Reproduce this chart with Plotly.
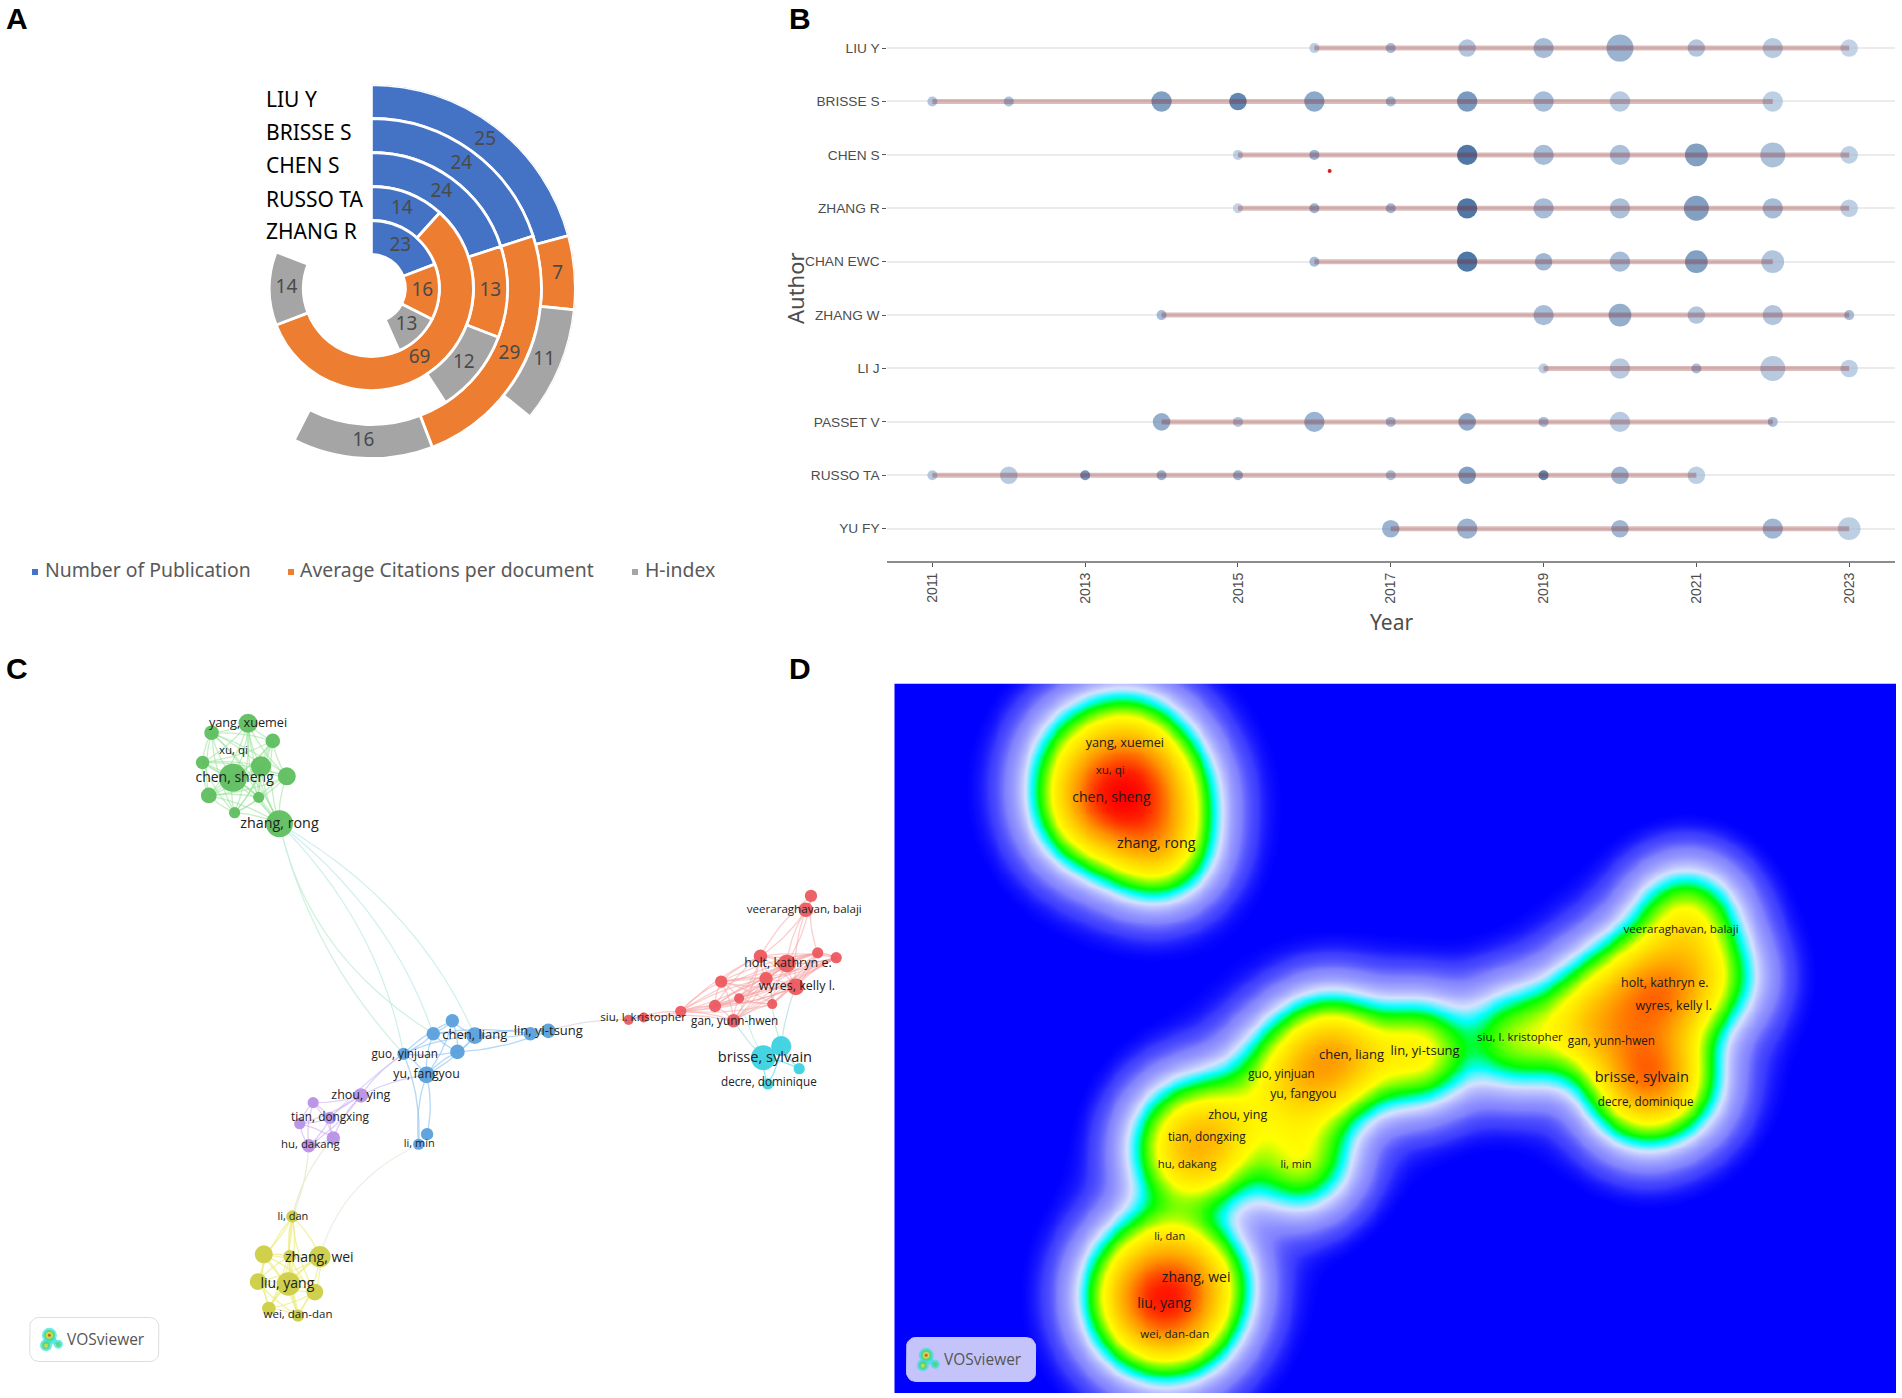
import itertools
import numpy as np
import plotly.graph_objects as go

W, H = 1902, 1398

# ---------- Panel A data ----------
authors_a = ["LIU Y", "BRISSE S", "CHEN S", "RUSSO TA", "ZHANG R"]
publications = [25, 24, 24, 14, 23]
avg_citations = [7, 29, 13, 69, 16]
h_index = [11, 16, 12, 14, 13]
series_names = ["Number of Publication", "Average Citations per document", "H-index"]
series_colors = ["#4472C4", "#ED7D31", "#A5A5A5"]
DEG_PER_UNIT = 3.0

# ---------- Panel B data ----------
authors_b = ["LIU Y", "BRISSE S", "CHEN S", "ZHANG R", "CHAN EWC", "ZHANG W", "LI J", "PASSET V", "RUSSO TA", "YU FY"]
years_liu = [2016, 2017, 2018, 2019, 2020, 2021, 2022, 2023]
n_liu = [1, 1, 3, 4, 7, 3, 4, 3]
tc_liu = [10, 30, 20, 30, 40, 20, 15, 5]
years_brisse = [2011, 2012, 2014, 2015, 2016, 2017, 2018, 2019, 2020, 2022]
n_brisse = [1, 1, 4, 3, 4, 1, 4, 4, 4, 4]
tc_brisse = [20, 25, 60, 85, 50, 30, 65, 30, 15, 10]
years_chen = [2015, 2016, 2018, 2019, 2020, 2021, 2022, 2023]
n_chen = [1, 1, 4, 4, 4, 5, 6, 3]
tc_chen = [10, 40, 100, 30, 25, 60, 25, 10]
years_zhangr = [2015, 2016, 2017, 2018, 2019, 2020, 2021, 2022, 2023]
n_zhangr = [1, 1, 1, 4, 4, 4, 6, 4, 3]
tc_zhangr = [5, 40, 35, 100, 30, 25, 60, 30, 10]
years_chan = [2016, 2018, 2019, 2020, 2021, 2022]
n_chan = [1, 4, 3, 4, 5, 5]
tc_chan = [30, 100, 35, 30, 60, 20]
years_zhangw = [2014, 2019, 2020, 2021, 2022, 2023]
n_zhangw = [1, 4, 5, 3, 4, 1]
tc_zhangw = [30, 30, 45, 20, 20, 30]
years_li = [2019, 2020, 2021, 2022, 2023]
n_li = [1, 4, 1, 6, 3]
tc_li = [10, 15, 30, 15, 10]
years_passet = [2014, 2015, 2016, 2017, 2018, 2019, 2020, 2022]
n_passet = [3, 1, 4, 1, 3, 1, 4, 1]
tc_passet = [45, 20, 40, 30, 50, 30, 15, 30]
years_russo = [2011, 2012, 2013, 2014, 2015, 2017, 2018, 2019, 2020, 2021]
n_russo = [1, 3, 1, 1, 1, 1, 3, 1, 3, 3]
tc_russo = [15, 15, 70, 40, 40, 25, 60, 85, 35, 10]
years_yu = [2017, 2018, 2020, 2022, 2023]
n_yu = [3, 4, 3, 4, 5]
tc_yu = [40, 40, 35, 35, 10]
year_ticks = [2011, 2013, 2015, 2017, 2019, 2021, 2023]

years_all = [years_liu, years_brisse, years_chen, years_zhangr, years_chan, years_zhangw, years_li, years_passet, years_russo, years_yu]
n_all = [n_liu, n_brisse, n_chen, n_zhangr, n_chan, n_zhangw, n_li, n_passet, n_russo, n_yu]
tc_all = [tc_liu, tc_brisse, tc_chen, tc_zhangr, tc_chan, tc_zhangw, tc_li, tc_passet, tc_russo, tc_yu]

# ---------- Panels C / D data: map coordinates of the co-authorship network ----------
green_x = [442, 377, 486, 361, 465, 415, 511, 372, 461, 418, 498]
green_y = [153, 173, 190, 235, 243, 267, 264, 304, 308, 340, 363]
green_w = [17, 13, 13, 12, 18, 25, 16, 14, 10, 10, 24]
blue_x = [806, 772, 846, 815, 719, 760, 945, 977, 761, 746]
blue_y = [775, 802, 806, 840, 844, 888, 802, 796, 1012, 1033]
blue_w = [12, 12, 15, 13, 11, 15, 12, 13, 11, 10]
red_x = [1445, 1436, 1355, 1402, 1457, 1490, 1365, 1418, 1285, 1317, 1274, 1376, 1213, 1307, 1120, 1147]
red_y = [514, 543, 640, 655, 633, 643, 687, 704, 693, 728, 744, 740, 755, 775, 773, 768]
red_w = [11, 13, 12, 16, 10, 10, 12, 15, 11, 9, 11, 9, 10, 12, 9, 9]
cyan_x = [1392, 1360, 1424, 1368]
cyan_y = [828, 852, 875, 907]
cyan_w = [18, 22, 10, 10]
purple_x = [643, 558, 588, 534, 594, 550]
purple_y = [931, 946, 978, 990, 1020, 1036]
purple_w = [13, 10, 11, 10, 12, 12]
yellow_x = [521, 470, 516, 570, 460, 514, 561, 479, 531]
yellow_y = [1184, 1263, 1267, 1268, 1320, 1325, 1342, 1376, 1391]
yellow_w = [11, 16, 11, 19, 15, 21, 15, 12, 11]

label_text = ["yang, xuemei", "xu, qi", "chen, sheng", "zhang, rong", "chen, liang", "lin, yi-tsung", "guo, yinjuan",
              "yu, fangyou", "zhou, ying", "tian, dongxing", "hu, dakang", "li, min", "li, dan", "zhang, wei", "liu, yang",
              "wei, dan-dan", "veeraraghavan, balaji", "holt, kathryn e.", "wyres, kelly l.", "siu, l. kristopher",
              "gan, yunn-hwen", "brisse, sylvain", "decre, dominique"]
label_x = [442, 416, 418, 498, 846, 977, 721, 760, 643, 588, 553, 747, 522, 569, 512, 531, 1433, 1404, 1420, 1146, 1309, 1363, 1370]
label_y = [155, 211, 269, 365, 807, 797, 846, 889, 932, 979, 1035, 1034, 1185, 1271, 1327, 1390, 543, 657, 705, 769, 777, 853, 906]
label_size = [12.7, 11.5, 14, 14.3, 13, 13, 11.7, 12.3, 12.5, 11.8, 11.4, 11, 11, 14, 14, 11.5, 11.6, 12.5, 12.5, 11.5, 11.7, 14.6, 11.7]

cluster_names = ["green", "blue", "red", "cyan", "purple", "yellow"]
clusters = {
    "green": (green_x, green_y, green_w, "rgb(95,190,95)", "rgba(150,225,150,0.55)"),
    "blue": (blue_x, blue_y, blue_w, "rgb(90,160,220)", "rgba(130,190,240,0.6)"),
    "red": (red_x, red_y, red_w, "rgb(235,90,95)", "rgba(248,160,160,0.5)"),
    "cyan": (cyan_x, cyan_y, cyan_w, "rgb(60,210,225)", "rgba(70,215,230,0.6)"),
    "purple": (purple_x, purple_y, purple_w, "rgb(185,145,230)", "rgba(205,175,240,0.6)"),
    "yellow": (yellow_x, yellow_y, yellow_w, "rgb(205,205,70)", "rgba(235,235,120,0.65)"),
}
# which node pairs are linked inside each cluster
links = {
    "green": list(itertools.combinations(range(11), 2)),
    "blue": list(itertools.combinations(range(6), 2)) + [(1, 6), (2, 6), (3, 7), (2, 7), (6, 7), (5, 8), (5, 9), (4, 9)],
    "red": list(itertools.combinations(range(2, 14), 2)) + [(0, 1), (0, 2), (0, 3), (1, 2), (1, 3), (1, 7), (0, 4), (12, 14), (12, 15), (14, 15), (13, 15), (3, 5), (4, 5)],
    "cyan": [(0, 1), (1, 2), (0, 2), (1, 3), (0, 3)],
    "purple": list(itertools.combinations(range(6), 2)),
    "yellow": list(itertools.combinations(range(9), 2)),
}
# links between clusters: (cluster, node, cluster, node, bend, colour)
cross_links = [
    ("green", 10, "blue", 1, -0.20, "rgba(195,238,215,0.8)"),
    ("green", 10, "blue", 4, -0.12, "rgba(195,238,215,0.8)"),
    ("green", 10, "blue", 4, 0.14, "rgba(195,235,235,0.8)"),
    ("green", 10, "blue", 1, 0.14, "rgba(195,235,235,0.8)"),
    ("green", 10, "blue", 2, 0.16, "rgba(195,235,235,0.8)"),
    ("red", 14, "blue", 7, -0.10, "rgba(225,212,230,0.8)"),
    ("purple", 0, "blue", 5, 0.10, "rgba(200,190,240,0.7)"),
    ("purple", 0, "blue", 4, 0.10, "rgba(200,190,240,0.7)"),
    ("purple", 2, "blue", 4, 0.05, "rgba(200,190,240,0.6)"),
    ("purple", 5, "yellow", 0, 0.08, "rgba(230,230,205,0.8)"),
    ("purple", 4, "yellow", 0, -0.12, "rgba(230,230,205,0.8)"),
    ("blue", 9, "yellow", 3, -0.22, "rgba(225,238,220,0.8)"),
    ("cyan", 1, "red", 13, 0.05, "rgba(170,222,222,0.7)"),
    ("cyan", 0, "red", 7, 0.06, "rgba(170,222,222,0.7)"),
    ("cyan", 0, "red", 11, 0.05, "rgba(170,222,222,0.7)"),
    ("cyan", 1, "red", 9, 0.05, "rgba(185,225,225,0.6)"),
]

# ---------- placement on the page ----------
def dx(a, b):
    return [a / W, b / W]

def dy(top, bottom):
    return [1 - bottom / H, 1 - top / H]

fig = go.Figure()

# ---------- Panel A ----------
n_rings = len(authors_a)
for k, vals in enumerate([publications, avg_citations, h_index]):
    start = [sum(s[i] for s in [publications, avg_citations, h_index][:k]) for i in range(n_rings)]
    fig.add_trace(go.Barpolar(
        subplot="polar",
        r=[1] * n_rings,
        base=[n_rings - i for i in range(n_rings)],
        theta=[(start[i] + vals[i] / 2) * DEG_PER_UNIT for i in range(n_rings)],
        width=[v * DEG_PER_UNIT for v in vals],
        marker=dict(color=series_colors[k], line=dict(color="white", width=2.8)),
        name=series_names[k], showlegend=False, hoverinfo="skip",
    ))
    fig.add_trace(go.Scatterpolar(
        subplot="polar",
        r=[n_rings - i + 0.5 for i in range(n_rings)],
        theta=[(start[i] + vals[i] / 2) * DEG_PER_UNIT for i in range(n_rings)],
        mode="text", text=[str(v) for v in vals],
        textfont=dict(family="Noto Sans", size=19, color="#4a4a4a"),
        showlegend=False, hoverinfo="skip",
    ))

# ---------- Panel B ----------
def bubble_diameter(n):
    return 10 + 17 * (np.sqrt(n) - 1) / (np.sqrt(7) - 1)

seg_x, seg_y, bx, by, bs, bc = [], [], [], [], [], []
for i in range(len(authors_b)):
    seg_x += [years_all[i][0], years_all[i][-1], None]
    seg_y += [i, i, None]
    bx += years_all[i]
    by += [i] * len(years_all[i])
    bs += [float(bubble_diameter(n)) for n in n_all[i]]
    bc += tc_all[i]

fig.add_trace(go.Scatter(
    x=bx, y=by, xaxis="x", yaxis="y", mode="markers",
    marker=dict(size=bs, color=bc, cmin=0, cmax=100, line=dict(width=0),
                colorscale=[[0, "rgb(178,199,222)"], [0.3, "rgb(128,160,198)"], [0.6, "rgb(75,120,168)"], [1, "rgb(5,62,130)"]],
                showscale=False),
    showlegend=False, hoverinfo="skip",
))
fig.add_trace(go.Scatter(
    x=seg_x, y=seg_y, xaxis="x", yaxis="y", mode="lines",
    line=dict(color="rgba(139,26,26,0.30)", width=5),
    showlegend=False, hoverinfo="skip",
))
fig.add_trace(go.Scatter(
    x=[2016.2], y=[2.30], xaxis="x", yaxis="y", mode="markers",
    marker=dict(size=4, color="#d81e1e"), showlegend=False, hoverinfo="skip",
))

# ---------- Panel C: links ----------
def curve(p0, p1, bend):
    p0, p1 = np.array(p0, float), np.array(p1, float)
    d = p1 - p0
    c = (p0 + p1) / 2 + bend * np.array([d[1], -d[0]])
    t = np.linspace(0, 1, 14)[:, None]
    pts = (1 - t) ** 2 * p0 + 2 * t * (1 - t) * c + t ** 2 * p1
    return pts[:, 0].round(1).tolist() + [None], pts[:, 1].round(1).tolist() + [None]

for name in cluster_names:
    xs, ys, ws, col, linkcol = clusters[name]
    ex, ey = [], []
    for a, b in links[name]:
        bend = 0.10 if (a + b) % 2 else -0.10
        cx, cy = curve((xs[a], ys[a]), (xs[b], ys[b]), bend)
        ex += cx
        ey += cy
    fig.add_trace(go.Scatter(x=ex, y=ey, xaxis="x2", yaxis="y2", mode="lines",
                             line=dict(color=linkcol, width=1.3), showlegend=False, hoverinfo="skip"))
for c1, i1, c2, i2, bend, col in cross_links:
    a, b = clusters[c1], clusters[c2]
    cx, cy = curve((a[0][i1], a[1][i1]), (b[0][i2], b[1][i2]), bend)
    fig.add_trace(go.Scatter(x=cx, y=cy, xaxis="x2", yaxis="y2", mode="lines",
                             line=dict(color=col, width=1.2), showlegend=False, hoverinfo="skip"))

PX_X, PX_Y = 1.782, 2.09   # map units per pixel
for name in cluster_names:
    xs, ys, ws, col, linkcol = clusters[name]
    fig.add_trace(go.Scatter(x=xs, y=ys, xaxis="x2", yaxis="y2", mode="markers",
                             marker=dict(size=[2 * w / PX_X for w in ws], color=col, opacity=0.95, line=dict(width=0)),
                             showlegend=False, hoverinfo="skip"))
fig.add_trace(go.Scatter(x=label_x, y=label_y, xaxis="x2", yaxis="y2", mode="text", text=label_text,
                         textfont=dict(family="Open Sans", size=label_size, color="#222222"),
                         showlegend=False, hoverinfo="skip"))

# ---------- Panel D: density of the same nodes ----------
all_x = np.array(sum((clusters[c][0] for c in cluster_names), []), float)
all_y = np.array(sum((clusters[c][1] for c in cluster_names), []), float)
all_w = np.array(sum((clusters[c][2] for c in cluster_names), []), float)
D_RANGE_X = [31.2, 1816]
D_RANGE_Y = [1511, 28.2]
gx = np.linspace(D_RANGE_X[0], D_RANGE_X[1], 260)
gy = np.linspace(D_RANGE_Y[1], D_RANGE_Y[0], 190)
GX, GY = np.meshgrid(gx, gy)
SIGMA, SIGMA_WIDE, WIDE_SHARE = 30.0, 56.0, 0.012
dens = np.zeros_like(GX)
for x0, y0, w0 in zip(all_x, all_y, all_w):
    r2 = ((GX - x0) / PX_X) ** 2 + ((GY - y0) / PX_Y) ** 2
    dens += (w0 / 10) ** 1.5 * (np.exp(-r2 / (2 * SIGMA ** 2)) + WIDE_SHARE * np.exp(-r2 / (2 * SIGMA_WIDE ** 2)))
dens = dens / dens.max()
density_scale = [
    [0, "rgb(0,0,255)"], [0.0009, "rgb(0,0,255)"], [0.004, "rgb(60,60,255)"], [0.014, "rgb(130,130,255)"], [0.055, "rgb(215,225,255)"],
    [0.09, "rgb(0,255,255)"], [0.13, "rgb(0,255,0)"], [0.24, "rgb(255,255,0)"], [0.58, "rgb(255,150,0)"],
    [0.88, "rgb(255,30,0)"], [1, "rgb(255,0,0)"],
]
fig.add_trace(go.Heatmap(x=gx.round(1), y=gy.round(1), z=dens.round(5), xaxis="x3", yaxis="y3",
                         zmin=0, zmax=1, colorscale=density_scale, showscale=False, zsmooth="best", hoverinfo="skip"))
fig.add_trace(go.Scatter(x=label_x, y=label_y, xaxis="x3", yaxis="y3", mode="text", text=label_text,
                         textfont=dict(family="Open Sans", size=label_size, color="#1a1a1a"),
                         showlegend=False, hoverinfo="skip"))

# ---------- VOSviewer badges ----------
shapes, annotations = [], []
def badge(xa, ya, fill, border):
    x0, x1, y0, y1, rx, ry = 53, 283, 1395, 1487, 16, 19
    t = np.linspace(0, np.pi / 2, 7)
    corners = [(x1 - rx, y0 + ry, 0), (x1 - rx, y1 - ry, 1), (x0 + rx, y1 - ry, 2), (x0 + rx, y0 + ry, 3)]
    px, py = [], []
    for cx, cy, q in corners:
        a = t + (q - 1) * np.pi / 2
        px += (cx + rx * np.cos(a)).round(1).tolist()
        py += (cy + ry * np.sin(a)).round(1).tolist()
    px.append(px[0])
    py.append(py[0])
    fig.add_trace(go.Scatter(x=px, y=py, xaxis=xa, yaxis=ya, mode="lines", fill="toself", fillcolor=fill,
                             line=dict(color=border, width=1), showlegend=False, hoverinfo="skip"))
    annotations.append(dict(x=189, y=1440, xref=xa, yref=ya, text="VOSviewer", showarrow=False,
                            font=dict(family="Open Sans", size=15.5, color="#555555")))
badge("x2", "y2", "white", "#dddddd")
badge("x3", "y3", "rgb(196,196,250)", "rgb(196,196,250)")

icon_x = [88, 82, 104, 95, 88, 82, 104, 88, 82, 88]
icon_y = [1432, 1453, 1451, 1444, 1432, 1453, 1451, 1432, 1454, 1432]
icon_s = [15, 12, 9, 7, 11, 8, 5, 7, 4, 3]
icon_c = ["#35e0e0", "#35e0e0", "#35e0e0", "#35e0e0", "#4fd060", "#4fd060", "#4fd060", "#f0e030", "#f0e030", "#e02020"]
for xa, ya in (("x2", "y2"), ("x3", "y3")):
    fig.add_trace(go.Scatter(x=icon_x, y=icon_y, xaxis=xa, yaxis=ya, mode="markers",
                             marker=dict(size=icon_s, color=icon_c, line=dict(width=0)), showlegend=False, hoverinfo="skip"))

# ---------- Free text ----------
def page_text(x, y, text, size, color, family="Noto Sans", anchor="left", angle=0, bold=False):
    annotations.append(dict(x=x / W, y=1 - y / H, xref="paper", yref="paper", text=f"<b>{text}</b>" if bold else text,
                            showarrow=False, xanchor=anchor, yanchor="middle", textangle=angle, align="left",
                            font=dict(family=family, size=size, color=color)))

for letter, x, y in (("A", 17, 18), ("B", 800, 18), ("C", 17, 668), ("D", 800, 668)):
    page_text(x, y, letter, 30, "black", "Liberation Sans", "center", bold=True)

for a, y in zip(authors_a, [99.5, 132, 165, 198.6, 231]):
    page_text(263.5, y, a, 21, "black")

legend_x = [32, 288, 632]
legend_text_x = [43, 298, 643]
for lx, tx, name, col in zip(legend_x, legend_text_x, series_names, series_colors):
    shapes.append(dict(type="rect", xref="paper", yref="paper", x0=lx / W, x1=(lx + 6) / W,
                       y0=1 - 575 / H, y1=1 - 569 / H, fillcolor=col, line=dict(width=0)))
    page_text(tx, 569.5, name, 19.4, "#595959")

page_text(795, 288, "Author", 22, "#4d4d4d", "Noto Sans", "center", angle=-90)
page_text(1391, 622, "Year", 21, "#4d4d4d", "Noto Sans", "center")

# ---------- Layout ----------
R_PX = 204
CX, CY = 371.4, 288.5
hidden = dict(visible=False, showgrid=False, zeroline=False, showticklabels=False)
fig.update_layout(
    width=W, height=H, margin=dict(l=0, r=0, t=0, b=0), paper_bgcolor="white", plot_bgcolor="white", showlegend=False,
    polar=dict(
        domain=dict(x=dx(CX - R_PX, CX + R_PX), y=dy(CY - R_PX, CY + R_PX)),
        bgcolor="rgba(0,0,0,0)", barmode="overlay",
        radialaxis=dict(visible=False, range=[0, 6]),
        angularaxis=dict(visible=False, direction="clockwise", rotation=90),
    ),
    xaxis=dict(domain=dx(887.3, 1895), range=[2010.41, 2023.6], tickmode="array", tickvals=year_ticks,
               ticktext=[str(y) for y in year_ticks], tickangle=-90, showgrid=False, zeroline=False,
               showline=True, linecolor="#8c8c8c", linewidth=2, ticks="outside", ticklen=4, tickcolor="#555555",
               tickfont=dict(family="Liberation Sans", size=14, color="#4d4d4d"), anchor="y"),
    yaxis=dict(domain=dy(20, 561), range=[9.605, -0.526], tickmode="array", tickvals=list(range(len(authors_b))),
               ticktext=authors_b, showgrid=True, gridcolor="#ebebeb", gridwidth=1.5, zeroline=False,
               ticks="outside", ticklen=4, tickcolor="#555555",
               tickfont=dict(family="Liberation Sans", size=13.7, color="#4d4d4d"), anchor="x"),
    xaxis2=dict(domain=dx(0, 880), range=[0, 1568], anchor="y2", **hidden),
    yaxis2=dict(domain=dy(650, 1398), range=[1563.3, 0], anchor="x2", **hidden),
    xaxis3=dict(domain=dx(894.3, 1896), range=D_RANGE_X, anchor="y3", **hidden),
    yaxis3=dict(domain=dy(683.5, 1393), range=D_RANGE_Y, anchor="x3", **hidden),
    shapes=shapes, annotations=annotations,
)

fig.write_html("out.html", config={"displayModeBar": False},
               post_script="document.body.style.margin='0';document.body.style.overflow='hidden';")
